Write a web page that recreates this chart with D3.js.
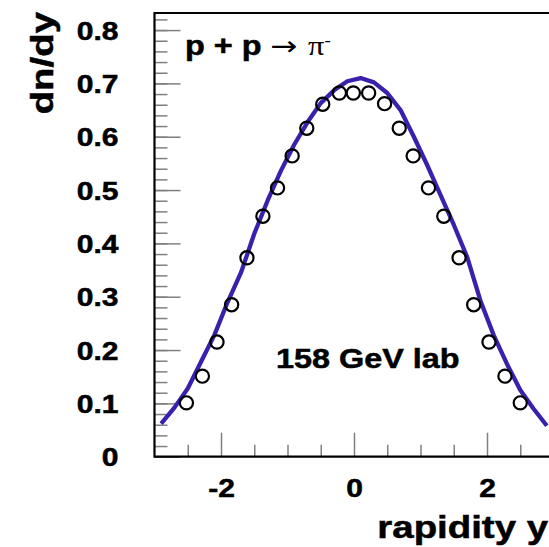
<!DOCTYPE html>
<html>
<head>
<meta charset="utf-8">
<script src="https://cdn.jsdelivr.net/npm/d3@7"></script>
<style>
  body { margin: 0; background: #fff; }
  svg { display: block; }
  text { font-family: "Liberation Sans", Arial, Helvetica, sans-serif; font-weight: bold; fill: #000; stroke: #000; stroke-width: 0.5px; }
</style>
</head>
<body>
<svg id="chart" width="549" height="547"></svg>
<script>
// measured data points (open circles)
var dataRap = [-2.52, -2.28, -2.06, -1.84, -1.61, -1.37, -1.15, -0.93, -0.71, -0.47, -0.22, -0.01,
               0.22, 0.46, 0.68, 0.89, 1.12, 1.35, 1.58, 1.80, 2.03, 2.27, 2.50];
var dataDn  = [0.101, 0.151, 0.215, 0.285, 0.373, 0.451, 0.504, 0.564, 0.616, 0.661, 0.682, 0.682,
               0.682, 0.662, 0.616, 0.564, 0.504, 0.451, 0.373, 0.285, 0.215, 0.151, 0.101];

// model curve (blue line)
var curveRap = [-2.9, -2.7, -2.5, -2.3, -2.1, -1.9, -1.7, -1.5, -1.3, -1.1, -0.9, -0.7, -0.5, -0.3, -0.1,
                0.1, 0.3, 0.5, 0.7, 0.9, 1.1, 1.3, 1.5, 1.7, 1.9, 2.1, 2.3, 2.5, 2.7, 2.9];
var curveDn  = [0.062, 0.092, 0.128, 0.178, 0.228, 0.29, 0.345, 0.418, 0.48, 0.536, 0.585, 0.627, 0.663, 0.687, 0.704,
                0.710, 0.702, 0.682, 0.650, 0.600, 0.547, 0.491, 0.435, 0.375, 0.293, 0.228, 0.174, 0.125, 0.09, 0.058];

// axis ticks
var xMajor = [-2, 0, 2];
var xMinor = [-2.5, -1.5, -1, -0.5, 0.5, 1, 1.5, 2.5];
var yMajor = [0, 0.1, 0.2, 0.3, 0.4, 0.5, 0.6, 0.7, 0.8];
var yMinor = d3.range(0, 0.83, 0.02);

var xTitle = "rapidity y";
var yTitle = "dn/dy";
var energyLabel = "158 GeV lab";

var svg = d3.select("#chart");
var frame = {left: 154.5, top: 13, bottom: 456.7, right: 553.5};
var stretch = 1.2; // text in the original is drawn wide

var x = d3.scaleLinear().domain([-3, 3]).range([frame.left, frame.right]);
var y = d3.scaleLinear().domain([0, 0.832]).range([frame.bottom, frame.top]);

var tickColor = "#808080";

// y ticks, pointing into the plot
svg.append("g")
  .attr("transform", "translate(" + frame.left + ",0)")
  .call(d3.axisRight(y).tickValues(yMinor).tickSize(13).tickFormat(""))
  .call(function(g){ g.select(".domain").remove(); });
svg.append("g")
  .attr("transform", "translate(" + frame.left + ",0)")
  .call(d3.axisRight(y).tickValues(yMajor).tickSize(26).tickFormat(""))
  .call(function(g){ g.select(".domain").remove(); });

// x ticks, pointing up from the bottom
svg.append("g")
  .attr("transform", "translate(0," + frame.bottom + ")")
  .call(d3.axisTop(x).tickValues(xMinor).tickSize(12).tickFormat(""))
  .call(function(g){ g.select(".domain").remove(); });
svg.append("g")
  .attr("transform", "translate(0," + frame.bottom + ")")
  .call(d3.axisTop(x).tickValues(xMajor).tickSize(24).tickFormat(""))
  .call(function(g){ g.select(".domain").remove(); });

svg.selectAll(".tick line").attr("stroke", tickColor).attr("stroke-width", 1.5);

// tick labels
var yLab = svg.append("g")
  .attr("transform", "translate(" + (frame.left - 36) + ",0)")
  .call(d3.axisLeft(y).tickValues(yMajor).tickSize(0).tickPadding(0).tickFormat(function(d){ return d === 0 ? "0" : d3.format(".1f")(d); }));
yLab.select(".domain").remove();
yLab.selectAll("text")
  .attr("x", null).attr("dy", "0.36em")
  .attr("text-anchor", "end")
  .attr("transform", "scale(" + stretch + ",1)")
  .style("font-size", "25px").style("font-family", null);

var xLab = svg.append("g")
  .attr("transform", "translate(0," + (frame.bottom + 40) + ")")
  .call(d3.axisBottom(x).tickValues(xMajor).tickSize(0).tickPadding(0).tickFormat(function(d){ return String(d); }));
xLab.select(".domain").remove();
xLab.selectAll("text")
  .attr("y", null).attr("dy", null)
  .attr("transform", "scale(" + stretch + ",1)")
  .style("font-size", "25px").style("font-family", null);

// frame
svg.append("path")
  .attr("d", "M" + frame.right + "," + frame.top + "H" + frame.left + "V" + frame.bottom + "H" + frame.right)
  .attr("fill", "none").attr("stroke", "#000").attr("stroke-width", 2.2);

// model curve
var line = d3.line()
  .x(function(d, i){ return x(curveRap[i]); })
  .y(function(d){ return y(d); });
svg.append("path")
  .datum(curveDn)
  .attr("d", line)
  .attr("fill", "none")
  .attr("stroke", "#3a20ac")
  .attr("stroke-width", 4.3)
  .attr("stroke-linejoin", "round");

// data points
svg.append("g").selectAll("circle")
  .data(dataDn)
  .join("circle")
  .attr("cx", function(d, i){ return x(dataRap[i]); })
  .attr("cy", function(d){ return y(d); })
  .attr("r", 6.6)
  .attr("fill", "none")
  .attr("stroke", "#000")
  .attr("stroke-width", 2.2);

// reaction label
var reac = svg.append("text")
  .attr("transform", "translate(185,55) scale(" + stretch + ",1)")
  .style("font-size", "27px");
reac.append("tspan").text("p + p ");
reac.append("tspan").style("font-weight", "normal").style("stroke-width", "0").style("font-family", "DejaVu Sans").text("\u2192 ");
reac.append("tspan").style("font-weight", "normal").style("stroke-width", "0").style("font-family", "Liberation Serif").text("\u03c0");
reac.append("tspan").attr("dy", "-0.55em").style("font-size", "17px").style("font-weight", "normal").style("stroke-width", "0").text("-");

svg.append("text")
  .attr("transform", "translate(276,367.5) scale(" + stretch + ",1)")
  .style("font-size", "27px")
  .text(energyLabel);

// axis titles
svg.append("text")
  .attr("transform", "translate(548,538) scale(" + stretch + ",1)")
  .attr("text-anchor", "end")
  .style("font-size", "32px")
  .text(xTitle);

svg.append("text")
  .attr("transform", "translate(53,12) rotate(-90) scale(" + stretch + ",1)")
  .attr("text-anchor", "end")
  .style("font-size", "32px")
  .text(yTitle);
</script>
</body>
</html>
